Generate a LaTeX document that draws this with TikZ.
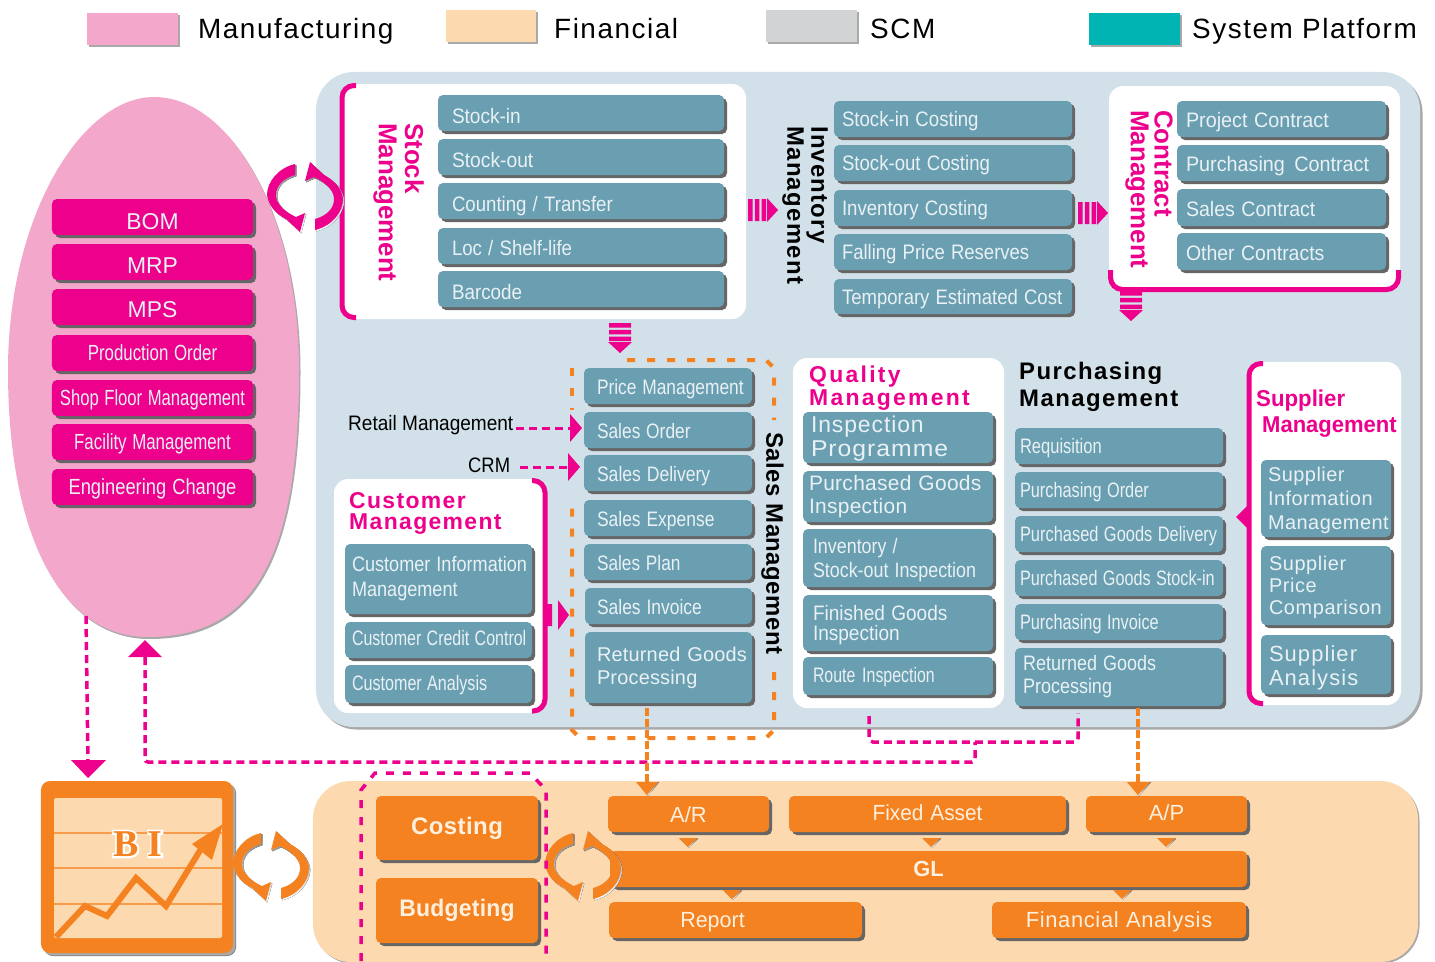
\documentclass[tikz,border=0pt]{standalone}
\usepackage{fontspec}
\usepackage{graphicx}
\setmainfont{Liberation Sans}
\usetikzlibrary{shadows,calc}
\definecolor{tealbox}{HTML}{6A9FB2}
\definecolor{pinkbox}{HTML}{EC008C}
\definecolor{pinkegg}{HTML}{F3A8CB}
\definecolor{orangebox}{HTML}{F58220}
\definecolor{peach}{HTML}{FDD9B0}
\definecolor{panelblue}{HTML}{D2E1E9}
\definecolor{scmgrey}{HTML}{D1D3D4}
\definecolor{platform}{HTML}{00B4B4}
\definecolor{shade}{HTML}{666666}
\definecolor{softwhite}{HTML}{E9F1F4}
\definecolor{softgrey}{HTML}{A9A9A9}
\newcommand\fs[1]{\fontsize{#1}{#1}\selectfont}
\newcommand\sq[2]{\scalebox{#1}[1]{#2}}
\newcommand\ls[1]{\addfontfeatures{LetterSpace=#1}}
% multi-line left text: [shift down] {inset} {lines}
\newcommand\lf[3][0]{\vbox{\kern\dimexpr #1bp+#1bp\relax\hbox{\hspace*{#2bp}\parbox[c]{\dimexpr\wx bp-#2bp\relax}{\raggedright #3}}}}
% single-line text with its capitals centred: [shift down] {text}
\newcommand\dn[2][0]{\rule[-5bp]{0pt}{\dimexpr 25bp+#1bp+#1bp\relax}#2}
% single-line left text: [shift down] {inset} {text}
\newcommand\lo[3][0]{\hspace*{#2bp}\dn[#1]{#3}}
\newcommand\bx[7]{%
 \pgfmathsetmacro\wx{#4-#2}\pgfmathsetmacro\hx{#5-#3}%
 \node[#6,minimum width=\wx bp,minimum height=\hx bp,text width=\wx bp] (#1) at ({(#2+#4)/2},{(#3+#5)/2}) {#7};}
\newcommand\tri[3]{%
 \begin{scope}[shift={(#1,#2)},rotate=#3]
  \fill[pinkbox] (0,-11) rectangle (4.5,11) (6.75,-11) rectangle (11.25,11) (13.5,-11) rectangle (18,11);
  \fill[pinkbox] (19,-12) -- (30,0) -- (19,12) -- cycle;
 \end{scope}}
\def\crescent{(-10,-33) .. controls (-27,-29) and (-38,-15) .. (-38,-2) .. controls (-37,8) and (-29,18) .. (-15,24) -- (-20,21) -- (-5,35) -- (0,16) -- (-9,20) .. controls (-20,15) and (-29,7) .. (-29,-2) .. controls (-29,-12) and (-21,-19) .. (-10,-22) -- cycle}
\newcommand\cyc[3]{%
 \foreach \ang in {0,180}{%
  \fill[shade,shift={(#1+1.3,#2+1.3)},rotate=\ang] \crescent;
  \fill[#3,shift={(#1,#2)},rotate=\ang] \crescent;}}
\newcommand\minitri[3]{%
 \fill[shade] (#1-8,#2+.5) -- (#1+10,#2+.5) -- (#1+1,#2+9.5) -- cycle;
 \fill[#3] (#1-9,#2) -- (#1+9,#2) -- (#1,#2+9) -- cycle;}
\tikzset{
 x=1bp,y=-1bp,
 base/.style={rounded corners=5bp,inner sep=0pt,outer sep=0pt,align=left,
   drop shadow={shadow xshift=3bp,shadow yshift=-3bp,fill=shade,opacity=1}},
 tbox/.style={base,fill=tealbox,text=softwhite,font=\fs{21}},
 pbox/.style={base,fill=pinkbox,text=softwhite,align=center,font=\fs{22}},
 obox/.style={base,fill=orangebox,text=peach!40!white,align=center,font=\fs{22}},
 legend/.style={inner sep=0pt,outer sep=0pt,draw=none,drop shadow={shadow xshift=1.5bp,shadow yshift=-1.5bp,fill=softgrey,opacity=1}},
 legtext/.style={anchor=base west,inner sep=0pt,font=\fs{28}\ls{5.5}},
 panel/.style={fill=white,rounded corners=14bp,inner sep=0pt,outer sep=0pt},
 brack/.style={draw=pinkbox,line width=5bp,rounded corners=12bp},
 ptitle/.style={text=pinkbox,inner sep=0pt,align=left,font=\fs{23}\bfseries},
 rtitle/.style={text=pinkbox,inner sep=0pt,font=\fs{26}\bfseries,rotate=-90,anchor=north west},
 ktitle/.style={text=black,inner sep=0pt,align=left,font=\fs{24}\bfseries},
 pdash/.style={draw=pinkbox,line width=3.5bp,dash pattern=on 8bp off 5bp},
 odash/.style={draw=orangebox,line width=4bp,dash pattern=on 8bp off 12bp},
 oline/.style={draw=orangebox,line width=3.5bp,dash pattern=on 8bp off 3bp},
 plab/.style={inner sep=0pt,font=\fs{21}},
}
\begin{document}
\begin{tikzpicture}
\useasboundingbox (0,0) rectangle (1435,961);
\fill[white] (0,0) rectangle (1435,961);
% legend
\bx{lg1}{87}{13}{178}{45}{legend,fill=pinkegg}{}
\node[legtext] (lt1) at (198,38) {Manufacturing};
\bx{lg2}{446}{10}{536}{42}{legend,fill=peach}{}
\node[legtext] (lt2) at (554,38) {Financial};
\bx{lg3}{766}{10}{857}{42}{legend,fill=scmgrey}{}
\node[legtext] (lt3) at (870,38) {SCM};
\bx{lg4}{1089}{13}{1180}{45}{legend,fill=platform}{}
\node[legtext] (lt4) at (1192,38) {System Platform};
% panels
\bx{blue}{316}{72}{1420}{727}{rounded corners=38bp,inner sep=0pt,fill=panelblue,drop shadow={shadow xshift=2.5bp,shadow yshift=-2.5bp,fill=softgrey,opacity=1}}{}
\bx{fin}{313}{781}{1418}{962}{rounded corners=38bp,inner sep=0pt,fill=peach,drop shadow={shadow xshift=1.5bp,shadow yshift=-1.5bp,fill=softgrey,opacity=1}}{}
% egg
\def\eggpath{(154,97) .. controls (232,97) and (299,217) .. (299,370) .. controls (299,557) and (254,637) .. (148,637) .. controls (61,637) and (8,536) .. (8,370) .. controls (8,217) and (81,97) .. (154,97) -- cycle}
\fill[softgrey,shift={(1.5,2)}] \eggpath;
\fill[pinkegg] \eggpath;
\coordinate (eggL) at (86,616);
% manufacturing boxes
\bx{m1}{52}{199}{253}{235}{pbox}{\fs{23}\dn[5]{BOM}}
\bx{m2}{52}{244}{253}{280}{pbox}{\fs{23}\dn[4]{MRP}}
\bx{m3}{52}{289}{253}{325}{pbox}{\fs{23}\dn[3]{MPS}}
\bx{m4}{52}{335}{253}{371}{pbox}{\fs{22}\dn{\sq{.77}{Production Order}}}
\bx{m5}{52}{380}{253}{416}{pbox}{\fs{22}\dn{\sq{.76}{Shop Floor Management}}}
\bx{m6}{52}{424}{253}{460}{pbox}{\fs{22}\dn{\sq{.77}{Facility Management}}}
\bx{m7}{52}{469}{253}{505}{pbox}{\fs{22}\dn{\sq{.835}{Engineering Change}}}
% stock
\bx{stockp}{340}{84}{746}{319}{panel}{}
\draw[brack] (356,85.5) -- (342,85.5) -- (342,317.5) -- (356,317.5);
\node[rtitle] (st1) at (424,123) {Stock};
\node[rtitle] (st2) at (397,123) {Management};
\bx{s1}{438}{95}{724}{131}{tbox}{\lo[3]{14}{\sq{.91}{Stock-in}}}
\bx{s2}{438}{139}{724}{175}{tbox}{\lo[3]{14}{\sq{.92}{Stock-out}}}
\bx{s3}{438}{183}{724}{219}{tbox}{\lo[3]{14}{\sq{.89}{Counting / Transfer}}}
\bx{s4}{438}{228}{724}{264}{tbox}{\lo[2]{14}{\sq{.89}{Loc / Shelf-life}}}
\bx{s5}{438}{271}{724}{307}{tbox}{\lo[3]{14}{\sq{.9}{Barcode}}}
% inventory
\node[ktitle,rotate=-90,anchor=north west] (inv1) at (828,126) {\ls{5}Inventory};
\node[ktitle,rotate=-90,anchor=north west] (inv2) at (804,126) {\ls{5.5}Management};
\bx{i1}{834}{101}{1072}{137}{tbox}{\lo{8}{\sq{.89}{Stock-in Costing}}}
\bx{i2}{834}{145}{1072}{181}{tbox}{\lo{8}{\sq{.89}{Stock-out Costing}}}
\bx{i3}{834}{190}{1072}{226}{tbox}{\lo{8}{\sq{.89}{Inventory Costing}}}
\bx{i4}{834}{234}{1072}{270}{tbox}{\lo{8}{\sq{.885}{Falling Price Reserves}}}
\bx{i5}{834}{279}{1072}{314}{tbox}{\lo{8}{\sq{.885}{Temporary Estimated Cost}}}
\tri{748}{210}{0}
\tri{1078}{213}{0}
% contract
\bx{conp}{1109}{86}{1400}{289}{panel}{}
\draw[brack] (1110.5,270) -- (1110.5,289.5) -- (1398.5,289.5) -- (1398.5,270);
\node[rtitle] (ct1) at (1173,110) {Contract};
\node[rtitle] (ct2) at (1149,110) {Management};
\bx{c1}{1177}{101}{1386}{137}{tbox}{\lo[1]{9}{\sq{.945}{Project Contract}}}
\bx{c2}{1177}{145}{1386}{181}{tbox}{\lo[1]{9}{\sq{.945}{Purchasing\hspace{3bp} Contract}}}
\bx{c3}{1177}{189}{1386}{226}{tbox}{\lo[1]{9}{\sq{.935}{Sales Contract}}}
\bx{c4}{1177}{233}{1386}{270}{tbox}{\lo[1]{9}{\sq{.93}{Other Contracts}}}
\tri{1131}{291}{-90}
\tri{620}{323}{-90}
% sales dashed frame
\draw[odash] (627,360) -- (766,360) -- (774,368) -- (774,420);
\draw[odash] (774,672) -- (774,730) -- (766,738) -- (580,738) -- (572,730) -- (572,500);
\draw[odash] (572,368) -- (572,410);
\node[ktitle,rotate=-90,anchor=north west] (sm) at (784,432) {\ls{2}Sales Management};
\bx{a1}{584}{368}{752}{404}{tbox}{\lo[1]{13}{\sq{.83}{Price Management}}}
\bx{a2}{584}{412}{752}{448}{tbox}{\lo[1]{13}{\sq{.83}{Sales Order}}}
\bx{a3}{584}{455}{752}{491}{tbox}{\lo[1]{13}{\sq{.84}{Sales Delivery}}}
\bx{a4}{584}{500}{752}{536}{tbox}{\lo[1]{13}{\sq{.835}{Sales Expense}}}
\bx{a5}{584}{544}{752}{580}{tbox}{\lo[1]{13}{\sq{.825}{Sales Plan}}}
\bx{a6}{585}{588}{752}{624}{tbox}{\lo[1]{12}{\sq{.835}{Sales Invoice}}}
\bx{a7}{585}{632}{752}{703}{tbox}{\lf{12}{\fs{20}\ls{1}\setlength\baselineskip{23bp}Returned Goods\\Processing}}
% customer
\bx{cup}{334}{479}{547}{713}{panel}{}
\draw[brack] (532,480.5) -- (545,480.5) -- (545,711) -- (532,711);
\node[ptitle,anchor=north west] (cut) at (349,492) {\ls{6}Customer\\[-2bp]\ls{6}Management};
\bx{u1}{345}{544}{532}{614}{tbox}{\lf{7}{\setlength\baselineskip{25bp}\sq{.865}{Customer Information}\\\sq{.865}{Management}}}
\bx{u2}{345}{622}{532}{658}{tbox}{\lo[-2]{7}{\sq{.765}{Customer Credit Control}}}
\bx{u3}{345}{665}{532}{703}{tbox}{\lo[-1]{7}{\sq{.77}{Customer Analysis}}}
\fill[pinkbox] (545,604) rectangle (552,626) (558,600) -- (569,615) -- (558,630) -- cycle;
% external labels
\node[plab,anchor=west] (rm) at (348,425) {\sq{.91}{Retail Management}};
\node[plab,anchor=west] (crm) at (468,465) {\sq{.88}{CRM}};
\coordinate (sa2) at (570,428);
\coordinate (sa3) at (568,467);
\coordinate (rmS) at (516,428);
\coordinate (crmS) at (520,467);
\draw[pdash,line width=3bp] (rmS) -- (sa2);
\fill[pinkbox] (570,414) -- (582,428) -- (570,442) -- cycle;
\draw[pdash,line width=3bp] (crmS) -- (sa3);
\fill[pinkbox] (568,453) -- (580,467) -- (568,481) -- cycle;
% quality
\bx{qp}{793}{358}{1004}{708}{panel}{}
\node[ptitle,anchor=north west] (qt) at (809,366) {\ls{10}Quality\\\ls{10}Management};
\bx{q1}{803}{412}{993}{463}{tbox}{\lf[1]{8}{\fs{23}\ls{4}\setlength\baselineskip{24bp}Inspection\\\sq{1.08}{Programme}}}
\bx{q2}{803}{471}{993}{522}{tbox}{\lf{6}{\fs{21}\ls{1.5}\setlength\baselineskip{23bp}Purchased Goods\\Inspection}}
\bx{q3}{803}{529}{993}{587}{tbox}{\lf[2]{10}{\setlength\baselineskip{24bp}\sq{.855}{Inventory /}\\\sq{.855}{Stock-out Inspection}}}
\bx{q4}{803}{595}{993}{651}{tbox}{\lf[2]{10}{\setlength\baselineskip{20bp}\sq{.91}{Finished Goods}\\\sq{.91}{Inspection}}}
\bx{q5}{803}{657}{993}{695}{tbox}{\lo[-1]{10}{\sq{.76}{Route\hspace{2bp} Inspection}}}
% purchasing
\node[ktitle,anchor=north west] (pt) at (1019,362) {\ls{6}Purchasing\\[3bp]\ls{6}Management};
\bx{b1}{1015}{428}{1223}{464}{tbox}{\lo{5}{\sq{.79}{Requisition}}}
\bx{b2}{1015}{472}{1223}{508}{tbox}{\lo{5}{\sq{.78}{Purchasing Order}}}
\bx{b3}{1015}{516}{1223}{552}{tbox}{\lo{5}{\sq{.785}{Purchased Goods Delivery}}}
\bx{b4}{1015}{560}{1223}{596}{tbox}{\lo{5}{\sq{.775}{Purchased Goods Stock-in}}}
\bx{b5}{1015}{604}{1223}{640}{tbox}{\lo{5}{\sq{.78}{Purchasing Invoice}}}
\bx{b6}{1015}{648}{1223}{706}{tbox}{\lf{8}{\setlength\baselineskip{23bp}\sq{.86}{Returned Goods}\\\sq{.86}{Processing}}}
% supplier
\bx{sp}{1247}{362}{1401}{705}{panel}{}
\draw[brack] (1263,363.5) -- (1249,363.5) -- (1249,703.5) -- (1263,703.5);
\fill[pinkbox] (1247,506) -- (1236,517) -- (1247,528) -- cycle;
\node[ptitle,anchor=west] (spt) at (1256,401) {\sq{.97}{Supplier}};
\node[ptitle,anchor=west] (spm) at (1262,427) {\sq{.96}{Management}};
\bx{p1}{1261}{460}{1391}{537}{tbox}{\lf[1.5]{7}{\fs{20}\ls{2.5}\setlength\baselineskip{24bp}Supplier\\Information\\Management}}
\bx{p2}{1261}{546}{1391}{625}{tbox}{\lf[2]{8}{\fs{20}\ls{3}\setlength\baselineskip{22bp}Supplier\\Price\\Comparison}}
\bx{p3}{1261}{635}{1391}{694}{tbox}{\lf[3]{8}{\fs{22}\ls{5}\setlength\baselineskip{24bp}Supplier\\Analysis}}
% cycle pink
\cyc{305}{197}{pinkbox}
% BI
\bx{bi}{41}{781}{233}{953}{base,rounded corners=9bp,fill=orangebox,drop shadow={shadow xshift=2.5bp,shadow yshift=-2.5bp,fill=softgrey,opacity=1}}{}
\fill[peach,rounded corners=2bp] (54,798) rectangle (222,938);
\draw[orangebox!70!peach,line width=1.2bp] (54,833) -- (222,833) (54,868) -- (222,868) (54,904) -- (222,904);
\node[inner sep=0pt,text=orangebox,font=\fontspec{Liberation Serif}\bfseries\fs{38}] (bit) at (138,844) {\rlap{\special{pdf:code 1 Tr 4 w 1 1 1 RG}B I\special{pdf:code 0 Tr 1 w 0 0 0 RG}}B I};
\draw[orangebox,line width=6bp,line join=miter] (56,937) -- (85,906) -- (107,916) -- (136,878) -- (166,906) -- (204,844);
\fill[orangebox] (192,844) -- (223,824) -- (212,860) -- cycle;
% financial boxes
\bx{f1}{376}{796}{538}{860}{obox}{\bfseries\ls{2}\fs{24}\dn[-2]{Costing}}
\bx{f2}{376}{878}{538}{943}{obox}{\bfseries\ls{1}\fs{24}\dn[-2]{\sq{.96}{Budgeting}}}
\bx{f3}{608}{796}{769}{832}{obox}{\dn[1]{A/R}}
\bx{f4}{789}{796}{1066}{832}{obox}{\dn[-1]{\sq{.95}{Fixed Asset}}}
\bx{f5}{1086}{796}{1247}{832}{obox}{\dn[-1]{A/P}}
\bx{f6}{610}{851}{1247}{887}{obox}{\bfseries\dn{GL}}
\bx{f7}{609}{902}{862}{938}{obox}{\dn{\sq{.98}{Report}}\hspace*{46bp}}
\bx{f8}{992}{902}{1246}{938}{obox}{\ls{3}\dn{Financial Analysis}}
\minitri{688}{838}{orangebox}
\minitri{931}{838}{orangebox}
\minitri{1166}{838}{orangebox}
\minitri{732}{890}{orangebox}
\minitri{1122}{890}{orangebox}
\cyc{271}{866}{orangebox}
\cyc{583}{866}{orangebox}
% budget dashed frame
\draw[pdash,dash pattern=on 8bp off 9bp] (361,961) -- (361,790) -- (375,773) -- (530,773) -- (546,790) -- (546,961);
% connectors
\coordinate (biT) at (88,762);
\coordinate (jn) at (975,762);
\coordinate (brk) at (975,742);
\coordinate (eggHead) at (145,657);
\coordinate (qpD) at (869,716);
\coordinate (b6D) at (1078,713);
\coordinate (a7D) at (647,708);
\coordinate (f3T) at (647,784);
\coordinate (b6O) at (1138,708);
\coordinate (f5T) at (1138,784);
\draw[pdash] (eggL) -- (biT);
\fill[pinkbox] (71,760) -- (106,760) -- (88,778) -- cycle;
\fill[pinkbox] (128,657) -- (162,657) -- (145,640) -- cycle;
\draw[pdash,rounded corners=3bp] (eggHead) -- (145,762) -- (jn) -- (brk);
\draw[pdash,rounded corners=4bp] (qpD) -- (869,742) -- (1078,742) -- (b6D);
\draw[oline] (a7D) -- (f3T);
\fill[shade] (637,782) -- (659,782) -- (648,796) -- cycle;
\fill[orangebox] (636,782) -- (658,782) -- (647,795) -- cycle;
\draw[oline] (b6O) -- (f5T);
\fill[shade] (1128,782) -- (1151,782) -- (1139,796) -- cycle;
\fill[orangebox] (1127,782) -- (1150,782) -- (1138,795) -- cycle;
\end{tikzpicture}
\end{document}
